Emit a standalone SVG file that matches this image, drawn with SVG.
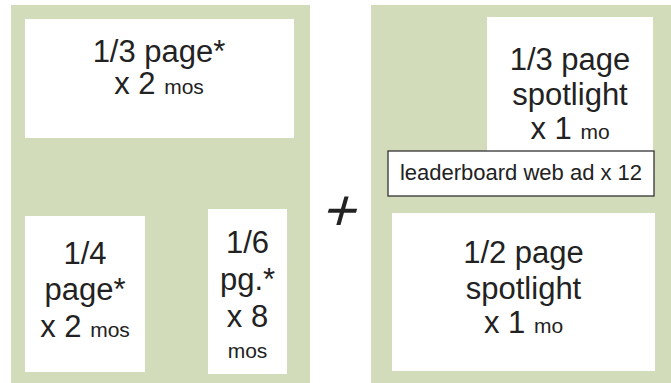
<svg xmlns="http://www.w3.org/2000/svg" width="671" height="383" viewBox="0 0 671 383">
<style>
.panel{fill:#d3dcba}
.box{fill:#ffffff}
.lb{fill:#ffffff;stroke:#333333;stroke-width:1.3}
text{font-family:"Liberation Sans",Arial,sans-serif;fill:#222222;text-anchor:middle}
.big{font-size:31px}
.sm{font-size:21px}
.lbt{font-size:22px}
.plus{font-size:58px}
</style>
<rect width="671" height="383" fill="#ffffff"/>
<g id="left-panel"><rect class="panel" x="11" y="5" width="299" height="378"/></g>
<g id="right-panel"><rect class="panel" x="371" y="5" width="300" height="378"/></g>
<g id="third-page">
<rect class="box" x="25" y="19" width="269" height="119"/>
<text class="big" x="159" y="62">1/3 page*</text>
<text class="big" x="159" y="94">x 2 <tspan class="sm">mos</tspan></text>
</g>
<g id="quarter-page">
<rect class="box" x="25" y="216" width="120" height="156"/>
<text class="big" x="85" y="264">1/4</text>
<text class="big" x="85" y="300">page*</text>
<text class="big" x="85" y="337">x 2 <tspan class="sm">mos</tspan></text>
</g>
<g id="sixth-page">
<rect class="box" x="208" y="209" width="79" height="165"/>
<text class="big" x="247.5" y="253">1/6</text>
<text class="big" x="247.5" y="290">pg.*</text>
<text class="big" x="247.5" y="327">x 8</text>
<text class="sm" x="247.5" y="358">mos</text>
</g>
<g id="plus"><text class="plus" transform="translate(337,230) skewX(-16)" x="0" y="0">+</text></g>
<g id="third-spotlight">
<rect class="box" x="487" y="17" width="166" height="134"/>
<text class="big" x="570" y="70">1/3 page</text>
<text class="big" x="570" y="105">spotlight</text>
<text class="big" x="570" y="139">x 1 <tspan class="sm">mo</tspan></text>
</g>
<g id="leaderboard">
<rect class="lb" x="388" y="151" width="266" height="45"/>
<text class="lbt" x="521" y="180">leaderboard web ad x 12</text>
</g>
<g id="half-spotlight">
<rect class="box" x="392" y="213" width="263" height="158"/>
<text class="big" x="523.5" y="263">1/2 page</text>
<text class="big" x="523.5" y="299">spotlight</text>
<text class="big" x="523.5" y="333">x 1 <tspan class="sm">mo</tspan></text>
</g>
<g id="connectors"></g>
</svg>
